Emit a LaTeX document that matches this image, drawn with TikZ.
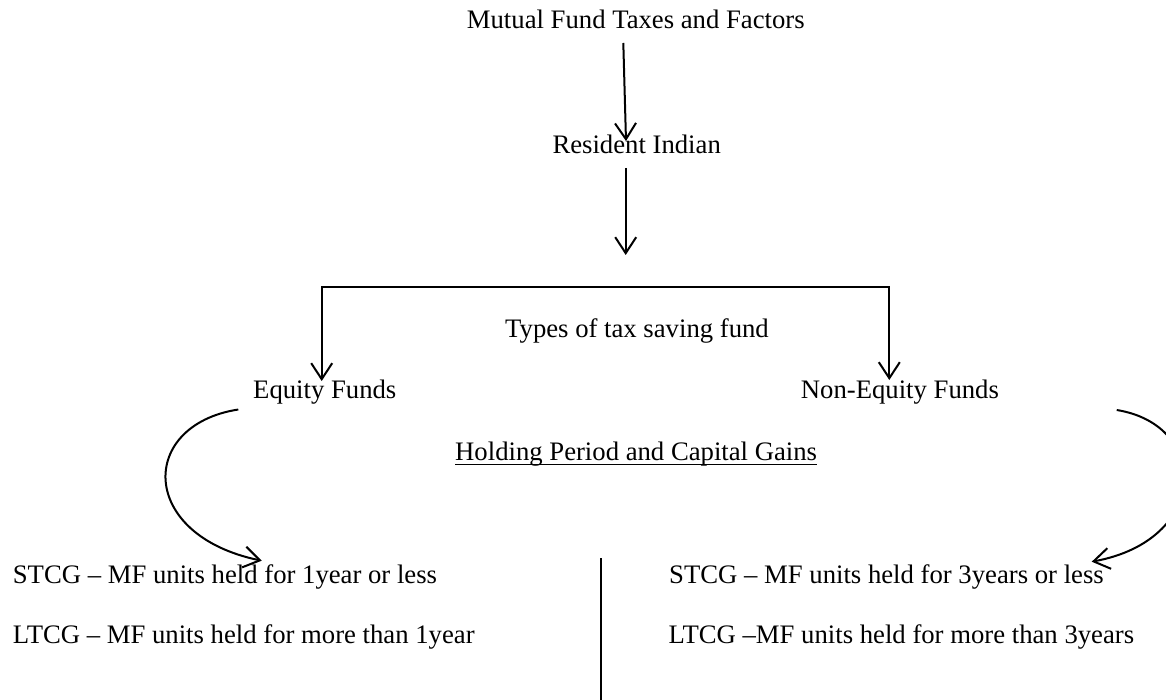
\documentclass[tikz,border=0pt]{standalone}
\usepackage{fontspec}
\setmainfont{Liberation Serif}
\usetikzlibrary{arrows.meta}
\begin{document}
\begin{tikzpicture}[x=1pt,y=-1pt,
  lbl/.style={inner sep=0pt, font=\fontsize{26.7}{30}\selectfont},
  conn/.style={line width=2pt, -{Straight Barb[length=16pt,width=21pt,line width=2pt]}},
  plain/.style={line width=2pt},
  uline/.style={line width=1.4pt}]
\clip (0,0) rectangle (1166,700);
\fill[white] (0,0) rectangle (1166,700);
% texts
\node[lbl, anchor=base west] (title) at (466.7,28.8) {Mutual Fund Taxes and Factors};
\node[lbl, anchor=base west] (resident) at (552.3,153.2) {Resident Indian};
\node[lbl, anchor=base west] (types) at (505,337.2) {Types of tax saving fund};
\node[lbl, anchor=base west] (equity) at (253,398.5) {Equity Funds};
\node[lbl, anchor=base west] (nonequity) at (800.7,398.5) {Non-Equity Funds};
\node[lbl, anchor=base west] (holding) at (455,460.5) {Holding Period and Capital Gains};
\node[lbl, anchor=base west] (lst) at (12.7,583.5) {STCG – MF units held for 1year or less};
\node[lbl, anchor=base west] (llt) at (12.7,643.5) {LTCG – MF units held for more than 1year};
\node[lbl, anchor=base west] (rst) at (669,583.5) {STCG – MF units held for 3years or less};
\node[lbl, anchor=base west] (rlt) at (668.5,643.5) {LTCG –MF units held for more than 3years};
\draw[uline] ([yshift=-4pt]holding.base west) -- ([yshift=-4pt]holding.base east);
% connector end points
\coordinate (a1s) at (623.3,43);
\coordinate (a1e) at (626,141);
\coordinate (a2s) at (625.7,168);
\coordinate (a2e) at (625.7,255);
\coordinate (eqtip) at (321.7,381);
\coordinate (neqtip) at (889.3,380);
\coordinate (eqc) at (238.3,409.5);
\coordinate (eqce) at (261.7,560.7);
\coordinate (neqc) at (1116.7,410);
\coordinate (neqce) at (1091.7,561.7);
\coordinate (vtop) at (601,558.3);
\coordinate (vbot) at (601,700);
% connectors
\draw[conn] (a1s) -- (a1e);
\draw[conn] (a2s) -- (a2e);
\draw[line width=2pt, {Straight Barb[length=16pt,width=21pt,line width=2pt]}-{Straight Barb[length=16pt,width=21pt,line width=2pt]}]
  (eqtip) |- (889.3,287.5) -- (neqtip);
\draw[conn] (eqc) .. controls (138,425) and (138,535) .. (eqce);
\draw[conn] (neqc) .. controls (1210,425) and (1210,540) .. (neqce);
\draw[plain] (vtop) -- (vbot);
\end{tikzpicture}
\end{document}
